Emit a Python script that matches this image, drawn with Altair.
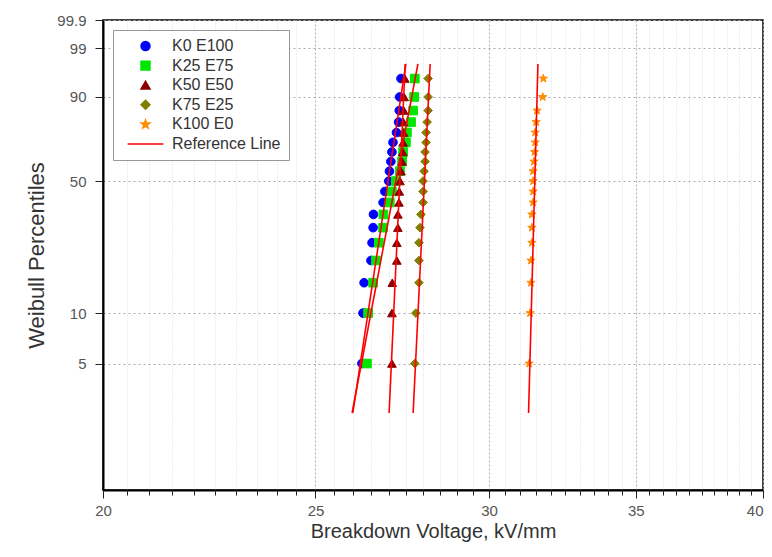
import altair as alt
import numpy as np
import pandas as pd

series_names = ["K0 E100", "K25 E75", "K50 E50", "K75 E25", "K100 E0"]
ref_label = "Reference Line"
percentiles = [5, 10, 15, 20, 25, 30, 35, 40, 45, 50, 55, 60, 65, 70, 75, 80, 85, 90, 95]

k0_e100 = [26.25, 26.28, 26.31, 26.50, 26.53, 26.56, 26.57, 26.84, 26.89, 27.00,
           27.02, 27.06, 27.09, 27.12, 27.22, 27.28, 27.30, 27.31, 27.35]
k25_e75 = [26.39, 26.42, 26.56, 26.64, 26.72, 26.84, 26.85, 27.03, 27.09, 27.20,
           27.32, 27.38, 27.41, 27.49, 27.52, 27.64, 27.70, 27.73, 27.75]
k50_e50 = [27.09, 27.09, 27.10, 27.23, 27.23, 27.26, 27.26, 27.29, 27.30, 27.32,
           27.35, 27.38, 27.40, 27.41, 27.42, 27.42, 27.43, 27.44, 27.46]
k75_e25 = [27.75, 27.78, 27.87, 27.87, 27.87, 27.90, 27.93, 27.99, 27.99, 27.99,
           28.02, 28.05, 28.05, 28.08, 28.08, 28.11, 28.14, 28.14, 28.14]
k100_e0 = [31.29, 31.32, 31.35, 31.35, 31.38, 31.38, 31.38, 31.42, 31.42, 31.42,
           31.42, 31.45, 31.47, 31.49, 31.49, 31.52, 31.55, 31.74, 31.76]

# reference (fitted Weibull) lines: value at the low and high percentile ends
ref_percent = [2.5, 97.5]
ref_low = [26.00, 25.98, 27.01, 27.70, 31.27]
ref_high = [27.49, 27.84, 27.47, 28.20, 31.58]

y_tick_pct = [5, 10, 50, 90, 99, 99.9]
y_bottom_pct = 0.84
x_major = [20, 25, 30, 35, 40]
x_minor = [v / 2 for v in range(41, 80) if v % 10 != 0]

colors = ["#0000ff", "#00e600", "#8b0000", "#808000", "#ff8c00", "#ff0000"]
star = ("M0,-1L0.235,-0.324L0.951,-0.309L0.380,0.124L0.588,0.809L0,0.4"
        "L-0.588,0.809L-0.380,0.124L-0.951,-0.309L-0.235,-0.324Z")
line_glyph = "M-4,0L4,0"
shapes = ["circle", "square", "triangle-up", "diamond", star, line_glyph]


def weib(p):
    return float(np.log(-np.log(1 - np.asarray(p) / 100.0)))


all_series = [k0_e100, k25_e75, k50_e50, k75_e25, k100_e0]
rows = []
for name, vals in zip(series_names, all_series):
    for p, v in zip(percentiles, vals):
        rows.append({"legend": name, "v": v, "w": weib(p)})
pts = pd.DataFrame(rows)

lrows = []
for name, lo, hi in zip(series_names, ref_low, ref_high):
    lrows.append({"legend": ref_label, "grp": name, "v": lo, "w": weib(ref_percent[0])})
    lrows.append({"legend": ref_label, "grp": name, "v": hi, "w": weib(ref_percent[1])})
lines = pd.DataFrame(lrows)

domain_all = series_names + [ref_label]
xscale = alt.Scale(type="log", domain=[20, 40], nice=False)
yscale = alt.Scale(domain=[weib(y_bottom_pct), weib(99.9)], nice=False, zero=False)
color_scale = alt.Scale(domain=domain_all, range=colors)
fill_scale = alt.Scale(domain=domain_all, range=colors)
shape_scale = alt.Scale(domain=domain_all, range=shapes)

yaxis = alt.Axis(
    values=[weib(p) for p in y_tick_pct],
    labelExpr="toString(round(1000*(1-exp(-exp(datum.value))))/10)",
    title="Weibull Percentiles", titleFontSize=22, titleFontWeight="normal",
    titleColor="#333", titlePadding=8,
    labelFontSize=15, labelColor="#555", labelPadding=9, tickSize=8,
    tickColor="#222", domainColor="black", domainWidth=2,
    grid=True, gridColor="#aaaaaa", gridDash=[2, 3], labelOverlap=False,
)

legend = alt.Legend(
    title=None, orient="none", legendX=10, legendY=10, padding=8,
    symbolOffset=16.5, labelOffset=18.5, rowPadding=3.6, symbolSize=80,
    symbolStrokeWidth=1.5,
    labelFontSize=16, labelColor="#333", strokeColor="#999", fillColor="white",
)

points = alt.Chart(pts).mark_point(filled=False, size=75, opacity=1, strokeWidth=1).encode(
    x=alt.X("v:Q", scale=xscale, axis=alt.Axis(
        values=x_major, orient="bottom", title="Breakdown Voltage, kV/mm",
        titleFontSize=20, titleFontWeight="normal", titleColor="#333",
        titleBaseline="alphabetic", titleY=47,
        labelFontSize=15, labelColor="#555", labelPadding=5,
        labelAlign={"condition": {"test": "datum.value >= 40", "value": "right"},
                    "value": "center"},
        tickSize=8, tickColor="#222", domainColor="black", domainWidth=2,
        labelFlush=False, labelOverlap=False, labelBound=False,
        grid=True, gridColor="#b0b0b0", gridDash=[2, 2])),
    y=alt.Y("w:Q", scale=yscale, axis=yaxis),
    color=alt.Color("legend:N", scale=color_scale, sort=domain_all, legend=legend),
    fill=alt.Fill("legend:N", scale=fill_scale, sort=domain_all, legend=legend),
    shape=alt.Shape("legend:N", scale=shape_scale, sort=domain_all, legend=legend),
)

reflines = alt.Chart(lines).mark_line(strokeWidth=1.6).encode(
    x=alt.X("v:Q", scale=xscale, axis=alt.Axis(
        values=x_minor, orient="bottom", title=None, labels=False, domain=False,
        tickSize=5, tickColor="#222", grid=True, gridColor="#dddddd",
        gridDash=[1, 2])),
    y=alt.Y("w:Q", scale=yscale, axis=yaxis),
    color=alt.Color("legend:N", scale=color_scale, sort=domain_all, legend=None),
    detail="grp:N",
)

chart = alt.layer(points, reflines).resolve_axis(x="independent").properties(
    width=660, height=470,
    autosize=alt.AutoSizeParams(type="none"),
    padding={"left": 95, "top": 12, "right": 1, "bottom": 53},
).configure(font="Liberation Sans").configure_view(stroke="black", strokeWidth=1.5)

chart.save("out.html", embed_options={"renderer": "svg", "actions": False})
